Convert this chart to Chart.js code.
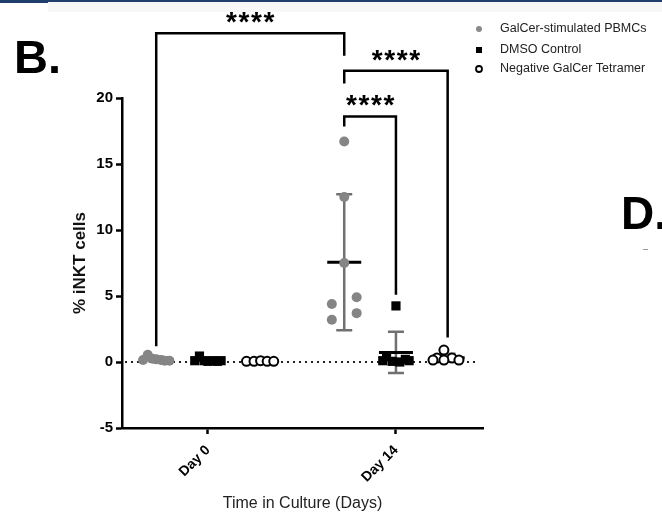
<!DOCTYPE html>
<html>
<head>
<meta charset="utf-8">
<script src="https://cdn.jsdelivr.net/npm/chart.js@4.4.0/dist/chart.umd.min.js"></script>
<style>
html, body { margin: 0; padding: 0; background: #fff; }
#wrap { position: relative; width: 662px; height: 524px; overflow: hidden; }
#chart { position: absolute; left: 0; top: 0; }
.band { position: absolute; left: 48px; top: 2px; width: 614px; height: 10px; background: #f7f7f7; }
.bar { position: absolute; left: 0; top: 0; width: 662px; height: 2px; background: #1f3d6d; }
.barL { position: absolute; left: 0; top: 0; width: 48px; height: 3px; background: #1f3d6d; }
.panel { position: absolute; font-family: 'Liberation Sans', Arial, sans-serif; font-weight: bold; line-height: 1; color: #000; }
#pB { left: 14px; top: 33px; font-size: 47px; }
#pD { left: 621px; top: 190px; font-size: 46px; }
.dash { position: absolute; left: 643px; top: 249px; width: 5px; height: 1px; background: #999; }
</style>
</head>
<body>
<div id="wrap">
  <div class="band"></div>
  <div class="bar"></div>
  <div class="barL"></div>
  <canvas id="chart" width="662" height="524"></canvas>
  <div class="panel" id="pB">B.</div>
  <div class="panel" id="pD">D.</div>
  <div class="dash"></div>
</div>
<script>
var dayLabels = ['Day 0', 'Day 14'];
var seriesNames = ['GalCer-stimulated PBMCs', 'DMSO Control', 'Negative GalCer Tetramer'];

// % iNKT cells, one value per donor
var galcerDay0 = [0.15, 0.55, 0.25, 0.2, 0.15, 0.1, 0.1];
var galcerDay14 = [16.7, 12.5, 7.5, 4.9, 4.4, 3.7, 3.2];
var dmsoDay0 = [0.1, 0.45, 0.1, 0.05, 0.1, 0.05, 0.1];
var dmsoDay14 = [4.25, 0.4, 0.2, 0.1, 0.1, 0.05, 0.0];
var negDay0 = [0.05, 0.05, 0.1, 0.05, 0.05];
var negDay14 = [0.9, 0.3, 0.3, 0.15, 0.15, 0.15];

// sideways scatter of the dots inside a group (in day units)
var galcerJit0 = [-0.07, -0.045, -0.02, 0, 0.025, 0.045, 0.07];
var galcerJit14 = [0, 0, 0, 0.066, -0.066, 0.066, -0.066];
var dmsoJit0 = [-0.07, -0.045, -0.02, 0, 0.025, 0.05, 0.07];
var dmsoJit14 = [0, -0.05, 0.05, -0.07, 0.07, -0.02, 0.02];
var negJit0 = [-0.07, -0.03, 0.005, 0.04, 0.075];
var negJit14 = [-0.02, -0.057, 0.023, -0.078, -0.02, 0.06];

var groupOffset = [-0.275, 0, 0.275];

// significance brackets: [day, group] of each end, bracket top / leg ends in % units
var brackets = [
    { from: [0, 0], to: [1, 0], top: 24.9, leftEnd: 1.2, rightEnd: 23.2, text: '****' },
    { from: [1, 0], to: [1, 2], top: 22.07, leftEnd: 21.1, rightEnd: 1.85, text: '****' },
    { from: [1, 0], to: [1, 1], top: 18.6, leftEnd: 17.85, rightEnd: 5.1, text: '****' }
];

function points(day0, jit0, day14, jit14, g) {
    var out = [];
    day0.forEach(function (v, i) { out.push({ x: 0 + groupOffset[g] + jit0[i], y: v }); });
    day14.forEach(function (v, i) { out.push({ x: 1 + groupOffset[g] + jit14[i], y: v }); });
    return out;
}

function meanSd(arr) {
    var m = arr.reduce(function (a, b) { return a + b; }, 0) / arr.length;
    var s = 0;
    arr.forEach(function (v) { s += (v - m) * (v - m); });
    return [m, Math.sqrt(s / (arr.length - 1))];
}

var groups = [
    [galcerDay0, galcerDay14],
    [dmsoDay0, dmsoDay14],
    [negDay0, negDay14]
];

Chart.defaults.font.family = "'Liberation Sans', Arial, sans-serif";

var zeroLine = {
    id: 'zeroLine',
    beforeDatasetsDraw: function (chart) {
        var ctx = chart.ctx, x = chart.scales.x, y = chart.scales.y;
        var py = y.getPixelForValue(0);
        ctx.save();
        ctx.strokeStyle = '#222';
        ctx.lineWidth = 2;
        ctx.setLineDash([2, 4]);
        ctx.beginPath();
        ctx.moveTo(x.left + 3, py);
        ctx.lineTo(x.right - 5, py);
        ctx.stroke();
        ctx.restore();
    }
};

var meanBars = {
    id: 'meanBars',
    beforeDatasetsDraw: function (chart) {
        var ctx = chart.ctx, x = chart.scales.x, y = chart.scales.y;
        ctx.save();
        groups.forEach(function (g, gi) {
            g.forEach(function (vals, day) {
                var ms = meanSd(vals);
                var cx = x.getPixelForValue(day + groupOffset[gi]);
                var top = y.getPixelForValue(ms[0] + ms[1]);
                var bot = y.getPixelForValue(ms[0] - ms[1]);
                ctx.strokeStyle = '#707070';
                ctx.lineWidth = 2.5;
                ctx.beginPath();
                ctx.moveTo(cx, top); ctx.lineTo(cx, bot);
                ctx.moveTo(cx - 8, top); ctx.lineTo(cx + 8, top);
                ctx.moveTo(cx - 8, bot); ctx.lineTo(cx + 8, bot);
                ctx.stroke();
                var my = y.getPixelForValue(ms[0]);
                ctx.strokeStyle = '#000';
                ctx.lineWidth = 3;
                ctx.beginPath();
                ctx.moveTo(cx - 17, my); ctx.lineTo(cx + 17, my);
                ctx.stroke();
            });
        });
        ctx.restore();
    }
};

var sigBrackets = {
    id: 'sigBrackets',
    afterDatasetsDraw: function (chart) {
        var ctx = chart.ctx, x = chart.scales.x, y = chart.scales.y;
        ctx.save();
        ctx.strokeStyle = '#000';
        ctx.lineWidth = 2.5;
        ctx.fillStyle = '#000';
        ctx.font = "bold 28px 'Liberation Sans', Arial, sans-serif";
        ctx.textAlign = 'center';
        ctx.textBaseline = 'alphabetic';
        brackets.forEach(function (b) {
            var x1 = x.getPixelForValue(b.from[0] + groupOffset[b.from[1]]);
            var x2 = x.getPixelForValue(b.to[0] + groupOffset[b.to[1]]);
            var ty = y.getPixelForValue(b.top);
            ctx.beginPath();
            ctx.moveTo(x1, y.getPixelForValue(b.leftEnd));
            ctx.lineTo(x1, ty);
            ctx.lineTo(x2, ty);
            ctx.lineTo(x2, y.getPixelForValue(b.rightEnd));
            ctx.stroke();
            var mid = (x1 + x2) / 2;
            for (var i = 0; i < b.text.length; i++) {
                ctx.fillText(b.text[i], mid + (i - 1.5) * 12.5, ty - 15 + 13);
            }
        });
        ctx.restore();
    }
};

var sideLegend = {
    id: 'sideLegend',
    afterDraw: function (chart) {
        var ctx = chart.ctx;
        var rows = [29, 50, 69];
        ctx.save();
        ctx.font = "12.5px 'Liberation Sans', Arial, sans-serif";
        ctx.textBaseline = 'middle';
        ctx.textAlign = 'left';
        seriesNames.forEach(function (name, i) {
            var ry = rows[i], mx = 479;
            if (i === 0) {
                ctx.fillStyle = '#8a8a8a';
                ctx.beginPath(); ctx.arc(mx, ry, 3, 0, Math.PI * 2); ctx.fill();
            } else if (i === 1) {
                ctx.fillStyle = '#000';
                ctx.fillRect(mx - 3, ry - 3, 6, 6);
            } else {
                ctx.strokeStyle = '#000';
                ctx.lineWidth = 1.8;
                ctx.beginPath(); ctx.arc(mx, ry, 3, 0, Math.PI * 2); ctx.stroke();
            }
            ctx.fillStyle = '#222';
            ctx.fillText(name, 500, ry);
        });
        ctx.restore();
    }
};

var ctx = document.getElementById('chart').getContext('2d');
var chart = new Chart(ctx, {
    type: 'scatter',
    data: {
        datasets: [{
            label: seriesNames[0],
            data: points(galcerDay0, galcerJit0, galcerDay14, galcerJit14, 0),
            pointStyle: 'circle',
            pointRadius: 5,
            backgroundColor: '#858585',
            borderWidth: 0
        }, {
            label: seriesNames[1],
            data: points(dmsoDay0, dmsoJit0, dmsoDay14, dmsoJit14, 1),
            pointStyle: 'rect',
            pointRadius: 6.5,
            backgroundColor: '#000',
            borderWidth: 0
        }, {
            label: seriesNames[2],
            data: points(negDay0, negJit0, negDay14, negJit14, 2),
            pointStyle: 'circle',
            pointRadius: 4.5,
            backgroundColor: '#fff',
            borderColor: '#000',
            borderWidth: 2
        }]
    },
    options: {
        responsive: false,
        animation: false,
        layout: { padding: { left: 66, right: 179, top: 98, bottom: 7 } },
        plugins: {
            legend: { display: false },
            tooltip: { enabled: false }
        },
        scales: {
            x: {
                type: 'linear',
                min: -0.457,
                max: 1.463,
                afterBuildTicks: function (s) {
                    s.ticks = dayLabels.map(function (d, i) { return { value: i }; });
                },
                afterFit: function (s) { s.height = 89; },
                ticks: {
                    callback: function (v) { return dayLabels[v]; },
                    minRotation: 45,
                    maxRotation: 45,
                    font: { weight: 'bold', size: 14 },
                    color: '#000',
                    padding: 8
                },
                grid: { display: true, drawOnChartArea: false, drawTicks: true, tickLength: 6, tickColor: '#000', tickWidth: 2.5 },
                border: { display: true, color: '#000', width: 2.5 },
                title: { display: true, text: 'Time in Culture (Days)', font: { size: 16 }, color: '#222', padding: { top: 4, bottom: 4 } }
            },
            y: {
                min: -5,
                max: 20,
                afterFit: function (s) { s.width = 56; },
                ticks: {
                    stepSize: 5,
                    font: { weight: 'bold', size: 15 },
                    color: '#000',
                    padding: 3
                },
                grid: { display: true, drawOnChartArea: false, drawTicks: true, tickLength: 6, tickColor: '#000', tickWidth: 2.5 },
                border: { display: true, color: '#000', width: 2.5 },
                title: { display: true, text: '% iNKT cells', font: { weight: 'bold', size: 17 }, color: '#111', padding: { top: 4, bottom: 4 } }
            }
        }
    },
    plugins: [zeroLine, meanBars, sigBrackets, sideLegend]
});
</script>
</body>
</html>
